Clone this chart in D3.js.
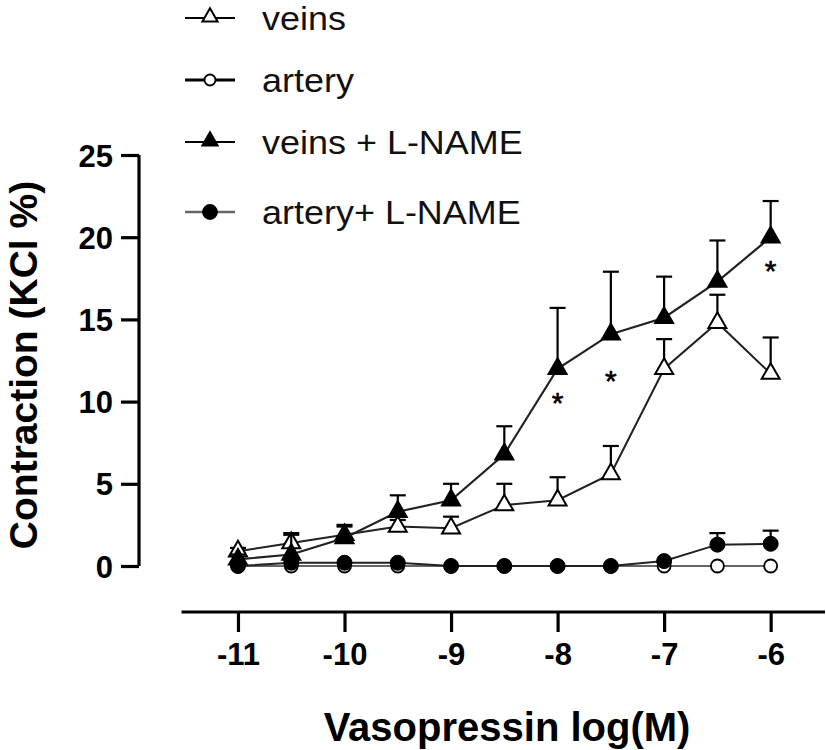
<!DOCTYPE html>
<html>
<head>
<meta charset="utf-8">
<script src="https://cdn.jsdelivr.net/npm/d3@7"></script>
<style>
  html, body { margin: 0; padding: 0; background: #fff; }
  svg { display: block; }
</style>
</head>
<body>
<svg id="chart" width="826" height="750"></svg>
<script>
// ---- data ----
const doses = [-11, -10.5, -10, -9.5, -9, -8.5, -8, -7.5, -7, -6.5, -6];
const veins      = [0.9, 1.4, 1.9, 2.4, 2.3, 3.7, 4.0, 5.6, 12.0, 14.8, 11.7];
const veinsErr   = [0.2, 0.6, 0.6, 0.4, 0.7, 1.3, 1.4, 1.7, 1.8, 1.7, 2.2];
const artery     = [0, 0, 0, 0, 0, 0, 0, 0, 0, 0, 0];
const arteryErr  = [0, 0, 0, 0, 0, 0, 0, 0, 0, 0, 0];
const veinsL     = [0.4, 0.7, 1.7, 3.3, 4.0, 6.8, 12.0, 14.1, 15.1, 17.3, 20.0];
const veinsLErr  = [0.3, 1.2, 0.7, 1.0, 1.0, 1.7, 3.7, 3.8, 2.5, 2.5, 2.2];
const arteryL    = [0, 0.2, 0.2, 0.2, 0, 0, 0, 0, 0.3, 1.3, 1.35];
const arteryLErr = [0, 0, 0, 0, 0, 0, 0, 0, 0, 0.7, 0.8];
const xTicks = [-11, -10, -9, -8, -7, -6];
const yTicks = [0, 5, 10, 15, 20, 25];
const stars = [{x: -8, y: 10.3}, {x: -7.5, y: 11.6}, {x: -6, y: 18.3}];
const legendLabels = ["veins", "artery", "veins + L-NAME", "artery+ L-NAME"];

const svg = d3.select("#chart");
const x = d3.scaleLinear().domain([-11.53, -5.49]).range([181.5, 825]);
const y = d3.scaleLinear().domain([0, 25]).range([566, 155]);
const FONT = "'Liberation Sans', Arial, Helvetica, sans-serif";

// ---- axes ----
const yAxis = svg.append("g").attr("transform", "translate(139,0)")
  .call(d3.axisLeft(y).tickValues(yTicks).tickSize(18).tickSizeOuter(0).tickPadding(8).tickFormat(d => String(d)));
const xAxis = svg.append("g").attr("transform", "translate(0,612)")
  .call(d3.axisBottom(x).tickValues(xTicks).tickSize(20).tickSizeOuter(0).tickPadding(10).tickFormat(d => String(d)));
[yAxis, xAxis].forEach(g => {
  g.select(".domain").attr("stroke", "#000").attr("stroke-width", 3.2);
  g.selectAll(".tick line").attr("stroke", "#000").attr("stroke-width", 3.2);
  g.selectAll(".tick text").attr("fill", "#000").attr("font-family", FONT)
    .attr("font-weight", "bold").attr("font-size", 31);
});
yAxis.select(".domain").attr("d", `M0,${y(25)}V${y(0)}`);
xAxis.select(".domain").attr("d", `M${x.range()[0]},0H${x.range()[1]}`);
xAxis.selectAll(".tick text").attr("dy", "0.75em");
yAxis.selectAll(".tick text").attr("dy", "0.36em");

// axis titles
svg.append("text").attr("x", 507).attr("y", 741).attr("text-anchor", "middle")
  .attr("font-family", FONT).attr("font-weight", "bold").attr("font-size", 40)
  .text("Vasopressin log(M)");
svg.append("text").attr("transform", "translate(37,365) rotate(-90)").attr("text-anchor", "middle")
  .attr("font-family", FONT).attr("font-weight", "bold").attr("font-size", 39)
  .text("Contraction (KCl %)");

// ---- series ----
const triPath = d3.symbol().type(d3.symbolTriangle).size(140)();
const series = [
  {vals: veins, err: veinsErr, marker: "tri", fill: "#fff", line: "#222", lw: 2},
  {vals: artery, err: arteryErr, marker: "circ", fill: "#fff", line: "#666", lw: 2},
  {vals: veinsL, err: veinsLErr, marker: "tri", fill: "#000", line: "#222", lw: 2.2},
  {vals: arteryL, err: arteryLErr, marker: "circ", fill: "#000", line: "#222", lw: 2}
];
const line = d3.line().x(d => x(d[0])).y(d => y(d[1]));

series.forEach(s => {
  const g = svg.append("g");
  const pts = doses.map((d, i) => [d, s.vals[i], s.err[i]]);
  pts.filter(p => p[2] > 0).forEach(p => {
    g.append("line").attr("x1", x(p[0])).attr("x2", x(p[0]))
      .attr("y1", y(p[1])).attr("y2", y(p[1] + p[2])).attr("stroke", "#000").attr("stroke-width", 2.2);
    g.append("line").attr("x1", x(p[0]) - 8).attr("x2", x(p[0]) + 8)
      .attr("y1", y(p[1] + p[2])).attr("y2", y(p[1] + p[2])).attr("stroke", "#000").attr("stroke-width", 2.2);
  });
  g.append("path").attr("d", line(pts)).attr("fill", "none")
    .attr("stroke", s.line).attr("stroke-width", s.lw);
  pts.forEach(p => {
    if (s.marker === "tri") {
      g.append("path").attr("d", triPath)
        .attr("transform", `translate(${x(p[0])},${y(p[1])})`)
        .attr("fill", s.fill).attr("stroke", "#000").attr("stroke-width", 2);
    } else {
      g.append("circle").attr("cx", x(p[0])).attr("cy", y(p[1])).attr("r", s.fill === "#000" ? 7.5 : 6.5)
        .attr("fill", s.fill).attr("stroke", "#000").attr("stroke-width", s.fill === "#000" ? 1 : 1.8);
    }
  });
});

// asterisks
svg.append("g").selectAll("text").data(stars).join("text")
  .attr("x", d => x(d.x)).attr("y", d => y(d.y) + 16)
  .attr("text-anchor", "middle").attr("font-family", FONT).attr("font-size", 30)
  .attr("stroke", "#000").attr("stroke-width", 0.6)
  .text("*");

// ---- legend ----
const legRows = [18, 80, 142, 212];
const legStyle = [
  {marker: "tri", fill: "#fff", line: "#000", lw: 2.2},
  {marker: "circ", fill: "#fff", line: "#000", lw: 3},
  {marker: "tri", fill: "#000", line: "#000", lw: 2.2},
  {marker: "circ", fill: "#000", line: "#666", lw: 2.5}
];
legendLabels.forEach((lab, i) => {
  const ly = legRows[i], st = legStyle[i];
  const g = svg.append("g");
  g.append("line").attr("x1", 185).attr("x2", 235).attr("y1", ly).attr("y2", ly)
    .attr("stroke", st.line).attr("stroke-width", st.lw);
  if (st.marker === "tri") {
    g.append("path").attr("d", d3.symbol().type(d3.symbolTriangle).size(100)())
      .attr("transform", `translate(210,${ly - 1})`)
      .attr("fill", st.fill).attr("stroke", "#000").attr("stroke-width", 2);
  } else {
    g.append("circle").attr("cx", 210).attr("cy", ly).attr("r", st.fill === "#000" ? 7 : 5.5)
      .attr("fill", st.fill).attr("stroke", "#000").attr("stroke-width", 1.8);
  }
  g.append("text").attr("transform", `translate(262,${ly + 12}) scale(1.09,1)`)
    .attr("font-family", FONT).attr("font-size", 33).attr("fill", "#111")
    .text(lab);
});
</script>
</body>
</html>
